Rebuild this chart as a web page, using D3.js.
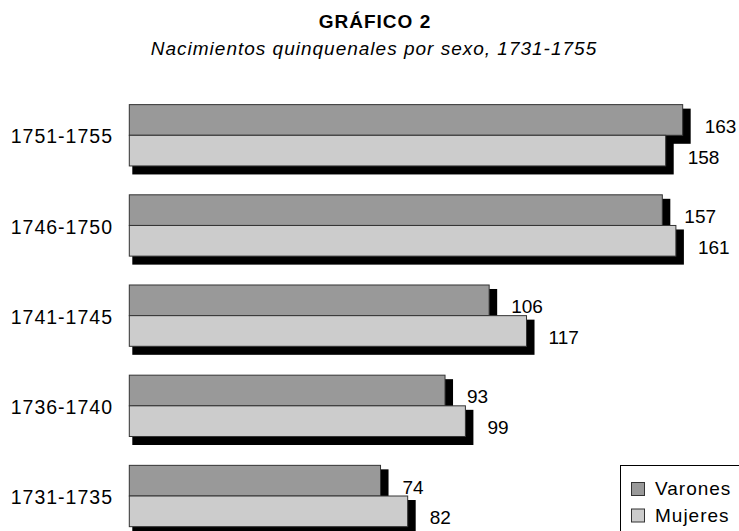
<!DOCTYPE html>
<html>
<head>
<meta charset="utf-8">
<script src="https://cdn.jsdelivr.net/npm/d3@7"></script>
<style>
  html, body { margin: 0; padding: 0; background: #fff; }
  svg { display: block; font-family: "Liberation Sans", Arial, Helvetica, sans-serif; }
</style>
</head>
<body>
<svg id="chart" width="739" height="531"></svg>
<script>
const categories = ["1751-1755", "1746-1750", "1741-1745", "1736-1740", "1731-1735"];
const varones = [163, 157, 106, 93, 74];
const mujeres = [158, 161, 117, 99, 82];
const seriesNames = ["Varones", "Mujeres"];
const seriesColors = ["#999999", "#cccccc"];
const titleText = "GRÁFICO 2";
const subtitleText = "Nacimientos quinquenales por sexo, 1731-1755";

const svg = d3.select("#chart");

const x = d3.scaleLinear().domain([0, 180]).range([129.3, 740.4]);
const y = d3.scaleBand().domain(categories).range([90.2, 541.1]).paddingInner(0.32).paddingOuter(0.16);
const sub = d3.scaleBand().domain(seriesNames).range([0, y.bandwidth()]);

const rows = [];
categories.forEach((c, i) => {
  rows.push({cat: c, s: "Varones", v: varones[i], color: seriesColors[0]});
  rows.push({cat: c, s: "Mujeres", v: mujeres[i], color: seriesColors[1]});
});

// title
svg.append("text").attr("x", 375).attr("y", 28).attr("text-anchor", "middle")
  .attr("font-size", 19).attr("font-weight", "bold").attr("letter-spacing", 1).text(titleText);
svg.append("text").attr("x", 374).attr("y", 55).attr("text-anchor", "middle")
  .attr("font-size", 19).attr("font-style", "italic").attr("letter-spacing", 1).text(subtitleText);

// shadows
svg.append("g").selectAll("rect").data(rows).join("rect")
  .attr("x", d => x(0) + 3)
  .attr("y", d => y(d.cat) + sub(d.s) + 4)
  .attr("width", d => x(d.v) - x(0) + 5)
  .attr("height", sub.bandwidth() + 4.5)
  .attr("fill", "#000");

// bars
svg.append("g").selectAll("rect").data(rows).join("rect")
  .attr("x", x(0))
  .attr("y", d => y(d.cat) + sub(d.s))
  .attr("width", d => x(d.v) - x(0))
  .attr("height", sub.bandwidth())
  .attr("fill", d => d.color)
  .attr("stroke", "#333")
  .attr("stroke-width", 1);

// value labels
svg.append("g").selectAll("text").data(rows).join("text")
  .attr("x", d => x(d.v) + 22)
  .attr("y", d => y(d.cat) + sub(d.s) + sub.bandwidth() / 2 + 13)
  .attr("font-size", 19)
  .text(d => d.v);

// category labels
svg.append("g").selectAll("text").data(categories).join("text")
  .attr("x", 113)
  .attr("y", d => y(d) + y.bandwidth() / 2 + 8.2)
  .attr("text-anchor", "end")
  .attr("font-size", 19.5)
  .attr("letter-spacing", 1)
  .text(d => d);

// legend
const lg = svg.append("g");
lg.append("rect").attr("x", 620.5).attr("y", 465.5).attr("width", 140).attr("height", 90)
  .attr("fill", "#fff").attr("stroke", "#000").attr("stroke-width", 1);
seriesNames.forEach((n, i) => {
  const yy = 482 + i * 26.5;
  lg.append("rect").attr("x", 631.5).attr("y", yy + 0.5).attr("width", 13).attr("height", 13)
    .attr("fill", seriesColors[i]).attr("stroke", "#333").attr("stroke-width", 1);
  lg.append("text").attr("x", 655).attr("y", yy + 13.3).attr("font-size", 19)
    .attr("letter-spacing", 1).text(n);
});
</script>
</body>
</html>
